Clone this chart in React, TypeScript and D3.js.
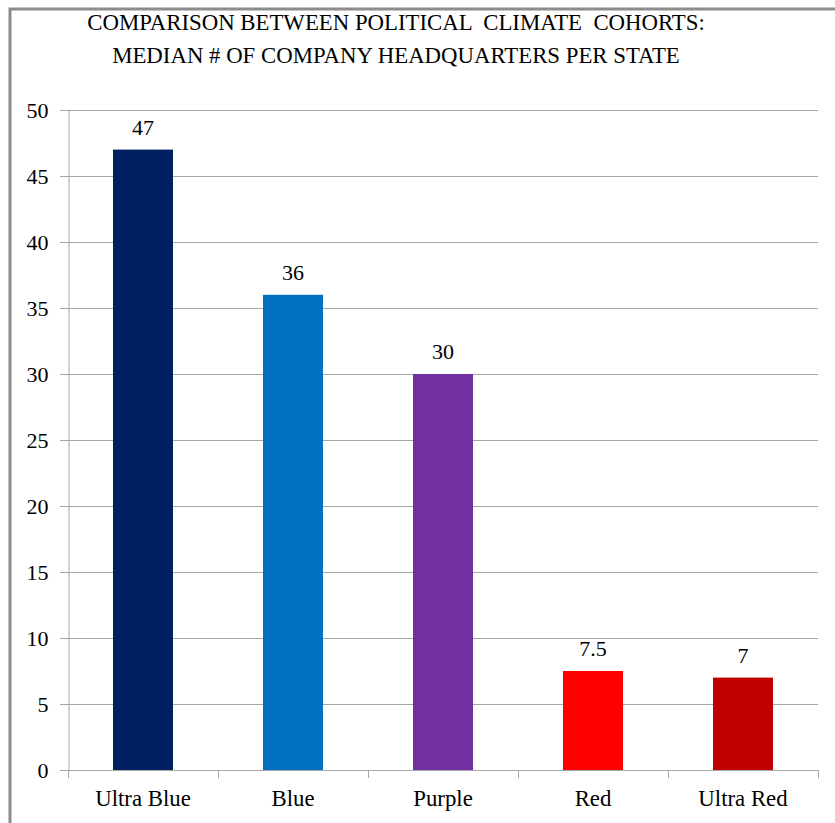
import * as d3 from 'd3';
import { useEffect, useRef } from 'react';

const categories = ['Ultra Blue', 'Blue', 'Purple', 'Red', 'Ultra Red'];
const medians = [47, 36, 30, 7.5, 7];
const barColors = ['#002060', '#0070C0', '#7030A0', '#FF0000', '#C00000'];
const yTicks = [0, 5, 10, 15, 20, 25, 30, 35, 40, 45, 50];
const titleLines = ['COMPARISON BETWEEN POLITICAL  CLIMATE  COHORTS:', 'MEDIAN # OF COMPANY HEADQUARTERS PER STATE'];

const FONT = "'Liberation Serif', 'Times New Roman', serif";

export default function App() {
    const svgRef = useRef<SVGSVGElement | null>(null);

    useEffect(() => {
        if (!svgRef.current) return;
        const width = 835;
        const height = 823;
        const margin = { top: 110, right: 17, bottom: 53, left: 68 };

        const svg = d3.select(svgRef.current);
        svg.selectAll('*').remove();

        // outer frame, cut off at the right and bottom
        svg.append('rect')
            .attr('x', 10).attr('y', 9)
            .attr('width', 900).attr('height', 900)
            .attr('fill', 'white')
            .attr('stroke', '#8c8c8c')
            .attr('stroke-width', 3);

        // title
        svg.append('text')
            .attr('text-anchor', 'middle')
            .style('font-family', FONT)
            .style('font-size', '22.8px')
            .style('white-space', 'pre')
            .selectAll('tspan')
            .data(titleLines)
            .join('tspan')
            .attr('x', 396)
            .attr('y', (_, i) => 30 + i * 33)
            .text(d => d);

        const x = d3.scaleBand<string>()
            .domain(categories)
            .range([margin.left, width - margin.right])
            .paddingInner(0.6)
            .paddingOuter(0.3);

        const y = d3.scaleLinear()
            .domain([0, 50])
            .range([height - margin.bottom, margin.top]);

        // gridlines
        svg.append('g')
            .selectAll('line')
            .data(yTicks)
            .join('line')
            .attr('x1', margin.left - 8)
            .attr('x2', width - margin.right)
            .attr('y1', d => Math.round(y(d)) + 0.5)
            .attr('y2', d => Math.round(y(d)) + 0.5)
            .attr('stroke', '#a6a6a6');

        // y axis
        const yAxis = svg.append('g')
            .attr('transform', `translate(${margin.left + 0.5},0)`)
            .call(d3.axisLeft(y).tickValues(yTicks).tickSize(0).tickPadding(20));
        yAxis.attr('font-family', null).attr('font-size', null);
        yAxis.select('.domain').attr('stroke', '#a6a6a6');
        yAxis.selectAll('text')
            .style('font-family', FONT)
            .style('font-size', '22px')
            .attr('fill', '#000');

        // category separators below the x axis
        const step = (width - margin.right - margin.left) / categories.length;
        svg.append('g')
            .selectAll('line')
            .data(d3.range(categories.length + 1).map(i => margin.left + i * step))
            .join('line')
            .attr('x1', d => Math.round(d) + 0.5)
            .attr('x2', d => Math.round(d) + 0.5)
            .attr('y1', y(0))
            .attr('y2', y(0) + 8)
            .attr('stroke', '#a6a6a6');

        // bars
        svg.append('g')
            .selectAll('rect')
            .data(medians)
            .join('rect')
            .attr('x', (_, i) => x(categories[i])!)
            .attr('y', d => y(d))
            .attr('width', x.bandwidth())
            .attr('height', d => y(0) - y(d))
            .attr('fill', (_, i) => barColors[i]);

        // value labels
        svg.append('g')
            .selectAll('text')
            .data(medians)
            .join('text')
            .attr('x', (_, i) => x(categories[i])! + x.bandwidth() / 2)
            .attr('y', d => y(d) - 15)
            .attr('text-anchor', 'middle')
            .style('font-family', FONT)
            .style('font-size', '22px')
            .text(d => String(d));

        // category labels
        svg.append('g')
            .selectAll('text')
            .data(categories)
            .join('text')
            .attr('x', d => x(d)! + x.bandwidth() / 2)
            .attr('y', y(0) + 36)
            .attr('text-anchor', 'middle')
            .style('font-family', FONT)
            .style('font-size', '22.8px')
            .text(d => d);
    }, []);

    return (
        <svg
            ref={svgRef}
            width={835}
            height={823}
            style={{ position: 'absolute', left: 0, top: 0, background: 'white' }}
        />
    );
}
